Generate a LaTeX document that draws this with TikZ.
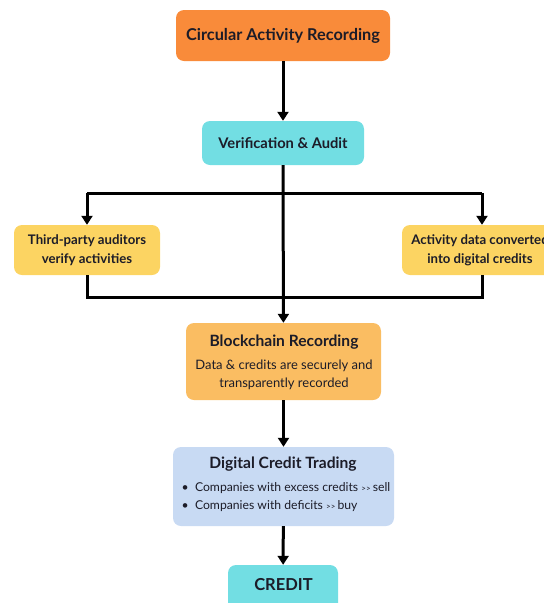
\documentclass[tikz,border=0pt]{standalone}
\usepackage{fontspec}
\setmainfont{Lato}
\usetikzlibrary{arrows.meta}

\definecolor{stepOrange}{HTML}{F98B3A}
\definecolor{stepCyan}{HTML}{72DEE3}
\definecolor{stepYellow}{HTML}{FCD462}
\definecolor{stepAmber}{HTML}{FABD62}
\definecolor{stepBlue}{HTML}{C8DAF3}
\definecolor{inkDark}{HTML}{1C1C28}

\tikzset{
  box/.style={rounded corners=8pt, align=center, text=inkDark, font=\bfseries\fontsize{15.5}{18}\selectfont, inner sep=0pt},
  flow/.style={line width=3pt, -{Triangle[length=9pt,width=11pt]}},
  wire/.style={line width=3pt}
}

\begin{document}
\begin{tikzpicture}[x=1pt,y=-1pt]

\useasboundingbox (0,0) rectangle (544,603);
\clip (0,0) rectangle (544,603);

% the boxes
\node [box, fill=stepOrange, minimum width=214pt, minimum height=51pt, font=\bfseries\fontsize{16.3}{18}\selectfont] (rec) at (283,35.5) {Circular Activity Recording};
\node [box, fill=stepCyan, minimum width=162pt, minimum height=44pt, font=\bfseries\fontsize{14.7}{18}\selectfont] (verif) at (283,143) {Verification \& Audit};
\node [box, fill=stepYellow, minimum width=146pt, minimum height=50pt, font=\bfseries\fontsize{13.2}{19}\selectfont] (audit) at (87,250) {Third-party auditors\\verify activities};
\node [box, fill=stepYellow, minimum width=156pt, minimum height=50pt, font=\bfseries\fontsize{13.2}{19}\selectfont] (convert) at (480,250) {Activity data converted\\into digital credits};
\node [box, fill=stepAmber, minimum width=195pt, minimum height=77pt] (chain) at (283.5,361.5) {};
\node [box, fill=stepBlue, minimum width=221pt, minimum height=79pt] (trade) at (283.5,486.5) {};
\node [box, fill=stepCyan, minimum width=110pt, minimum height=50pt] (credit) at (283,590) {};

% texts inside the big boxes
\node [text=inkDark, font=\bfseries\fontsize{15.6}{18}\selectfont] (chainT) at (284,342) {Blockchain Recording};
\node [text=inkDark, align=center, font=\fontsize{13}{18}\selectfont] (chainB) at (284,375) {Data \& credits are securely and\\transparently recorded};
\node [text=inkDark, font=\bfseries\fontsize{15.6}{18}\selectfont] (tradeT) at (283,464) {Digital Credit Trading};
\node [text=inkDark, align=left, font=\fontsize{12.2}{18}\selectfont] (tradeB) at (286,497) {\textbullet\ \ Companies with excess credits {\footnotesize>\kern0.2pt>}\,sell\\\textbullet\ \ Companies with deficits {\footnotesize>\kern0.2pt>}\,buy};
\node [text=inkDark, font=\bfseries\fontsize{16.5}{18}\selectfont] (creditT) at (283.5,585) {CREDIT};

% the split and the join
\coordinate (splitL) at (87,193);
\coordinate (splitR) at (482,193);
\coordinate (joinL) at (87,297);
\coordinate (joinR) at (482,297);

\draw [flow] (rec) -- (verif);
\draw [wire] (splitL) -- (splitR);
\draw [flow] (splitL) -- (audit);
\draw [flow] (splitR) -- (splitR |- convert.north);
\draw [wire] (audit) -- (joinL) -- (joinR) -- (joinR |- convert.south);
\draw [flow] (verif) -- (chain);
\draw [flow] (chain) -- (trade);
\draw [flow] (trade) -- (credit);

\end{tikzpicture}
\end{document}
